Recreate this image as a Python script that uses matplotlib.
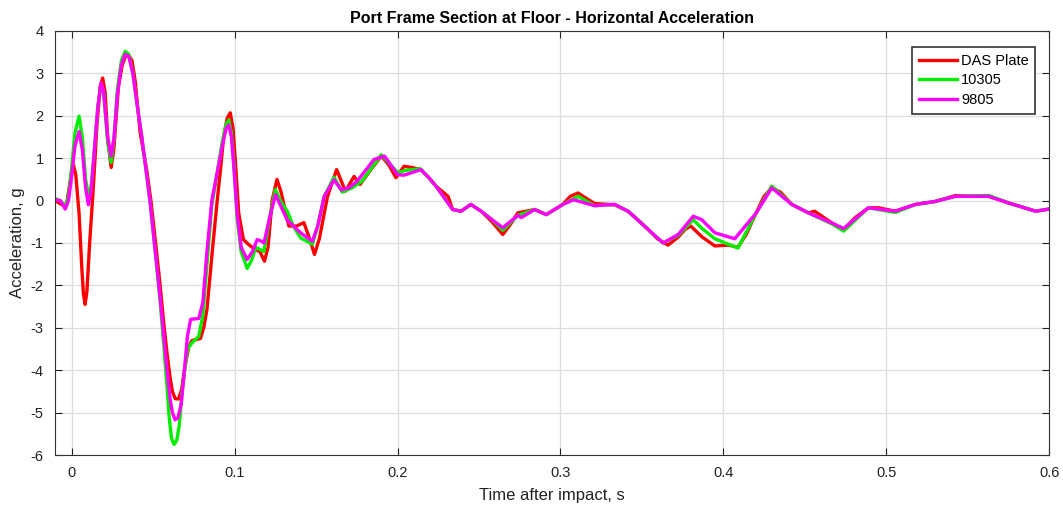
import matplotlib
matplotlib.use("Agg")
import matplotlib.pyplot as plt

# DAS Plate (red)
t_das = [-0.0103, -0.008, -0.005, -0.003, -0.001, 0.001, 0.0025, 0.0045, 0.0062, 0.0072,
         0.0082, 0.0093, 0.011, 0.0133, 0.0155, 0.0175, 0.019, 0.0205, 0.0222, 0.0242,
         0.0258, 0.0287, 0.031, 0.033, 0.035, 0.037, 0.039, 0.042, 0.046, 0.0486,
         0.0515, 0.0543, 0.0565, 0.0585, 0.0603, 0.0618, 0.0635, 0.0655, 0.0675, 0.0695,
         0.0718, 0.0739, 0.079, 0.081, 0.083, 0.0862, 0.0893, 0.0915, 0.0933, 0.0955,
         0.0973, 0.099, 0.1005, 0.1025, 0.1054, 0.109, 0.1128, 0.1155, 0.1183, 0.1205,
         0.123, 0.126, 0.1285, 0.1333, 0.138, 0.1425, 0.146, 0.149, 0.152, 0.157,
         0.1626, 0.168, 0.1733, 0.177, 0.184, 0.19, 0.1945, 0.199, 0.204, 0.209,
         0.2143, 0.219, 0.2236, 0.231, 0.2338, 0.239, 0.245, 0.2513, 0.258, 0.2646,
         0.2695, 0.2738, 0.2841, 0.2913, 0.3015, 0.306, 0.3108, 0.316, 0.321, 0.3333,
         0.3415, 0.3475, 0.3538, 0.3595, 0.366, 0.3723, 0.3765, 0.38, 0.3867, 0.3948,
         0.403, 0.409, 0.414, 0.42, 0.425, 0.4297, 0.435, 0.442, 0.4522, 0.456,
         0.4667, 0.4738, 0.481, 0.489, 0.4953, 0.5055, 0.518, 0.53, 0.5425, 0.553,
         0.563, 0.5754, 0.5917, 0.6]
a_das = [0.0, -0.05, -0.12, -0.05, 0.45, 0.85, 0.6, -0.3, -1.6, -2.2,
         -2.45, -2.15, -1.0, 0.34, 1.8, 2.7, 2.89, 2.55, 1.4, 0.78,
         1.2, 2.7, 3.2, 3.4, 3.42, 3.3, 2.8, 1.6, 0.73, 0.0,
         -1.0, -2.02, -2.9, -3.6, -4.15, -4.5, -4.67, -4.68, -4.45, -3.9,
         -3.45, -3.3, -3.25, -3.0, -2.57, -1.23, 0.0, 0.8, 1.52, 1.95,
         2.07, 1.7, 0.9, -0.3, -0.92, -1.05, -1.16, -1.2, -1.43, -1.1,
         0.0, 0.5, 0.2, -0.6, -0.6, -0.52, -0.9, -1.27, -0.9, 0.1,
         0.73, 0.22, 0.57, 0.38, 0.75, 1.05, 0.85, 0.54, 0.81, 0.78,
         0.73, 0.55, 0.34, 0.1, -0.21, -0.25, -0.09, -0.25, -0.5, -0.8,
         -0.55, -0.29, -0.21, -0.33, -0.09, 0.1, 0.18, 0.05, -0.07, -0.1,
         -0.25, -0.45, -0.68, -0.9, -1.05, -0.86, -0.68, -0.6, -0.85, -1.07,
         -1.05, -1.1, -0.8, -0.3, 0.1, 0.3, 0.2, -0.09, -0.29, -0.25,
         -0.53, -0.68, -0.4, -0.17, -0.17, -0.25, -0.09, -0.02, 0.12, 0.1,
         0.1, -0.06, -0.25, -0.2]

# 10305 (green)
t_10305 = [-0.0103, -0.007, -0.004, -0.002, 0.0, 0.002, 0.0045, 0.0065, 0.0085, 0.0102,
           0.0118, 0.0135, 0.016, 0.018, 0.0195, 0.022, 0.0242, 0.026, 0.028, 0.0305,
           0.0328, 0.035, 0.0375, 0.040, 0.043, 0.046, 0.048, 0.051, 0.0543, 0.0565,
           0.0585, 0.0598, 0.0612, 0.0628, 0.0645, 0.066, 0.068, 0.071, 0.0739, 0.078,
           0.0805, 0.083, 0.086, 0.089, 0.0925, 0.0948, 0.0964, 0.098, 0.0995, 0.1015,
           0.104, 0.1077, 0.1105, 0.113, 0.118, 0.1215, 0.125, 0.128, 0.1323, 0.136,
           0.1405, 0.1477, 0.151, 0.155, 0.161, 0.166, 0.172, 0.178, 0.19, 0.1945,
           0.2, 0.206, 0.214, 0.219, 0.2236, 0.2338, 0.239, 0.245, 0.2513, 0.258,
           0.2646, 0.2738, 0.2841, 0.2913, 0.3015, 0.3108, 0.321, 0.3333, 0.3415, 0.3538,
           0.363, 0.3723, 0.3815, 0.3867, 0.3948, 0.409, 0.42, 0.4297, 0.442, 0.4522,
           0.4667, 0.4738, 0.489, 0.5055, 0.518, 0.53, 0.5425, 0.563, 0.5754, 0.5917,
           0.6]
a_10305 = [0.05, 0.0, -0.15, 0.1, 0.8, 1.6, 1.99, 1.5, 0.5, 0.14,
           0.3, 1.0, 2.2, 2.75, 2.6, 1.4, 0.9, 1.5, 2.6, 3.3,
           3.52, 3.45, 3.0, 2.3, 1.5, 0.6, 0.0, -1.1, -2.4, -3.4,
           -4.4, -5.1, -5.6, -5.75, -5.65, -5.3, -4.4, -3.5, -3.35, -3.2,
           -2.7, -1.5, -0.1, 0.6, 1.4, 1.8, 1.9, 1.6, 0.9, -0.4,
           -1.2, -1.6, -1.4, -1.1, -1.2, -0.4, 0.26, 0.0, -0.25, -0.6,
           -0.88, -1.03, -0.6, 0.1, 0.55, 0.2, 0.3, 0.45, 1.08, 0.9,
           0.66, 0.72, 0.75, 0.55, 0.34, -0.21, -0.25, -0.09, -0.25, -0.45,
           -0.7, -0.35, -0.21, -0.33, -0.09, 0.1, -0.12, -0.09, -0.25, -0.68,
           -1.0, -0.82, -0.45, -0.65, -0.9, -1.12, -0.3, 0.34, -0.09, -0.29,
           -0.55, -0.72, -0.17, -0.28, -0.09, -0.02, 0.1, 0.12, -0.06, -0.25,
           -0.2]

# 9805 (magenta)
t_9805 = [-0.0103, -0.007, -0.004, -0.002, 0.0, 0.002, 0.0045, 0.0065, 0.0085, 0.0102,
          0.0118, 0.0135, 0.016, 0.018, 0.0195, 0.022, 0.0242, 0.026, 0.028, 0.0305,
          0.0328, 0.035, 0.0375, 0.040, 0.043, 0.046, 0.048, 0.051, 0.0543, 0.0565,
          0.0585, 0.0603, 0.0618, 0.0635, 0.0652, 0.0672, 0.0692, 0.071, 0.073, 0.078,
          0.0805, 0.083, 0.086, 0.089, 0.0925, 0.0948, 0.0964, 0.098, 0.0995, 0.1015,
          0.104, 0.1077, 0.111, 0.1138, 0.116, 0.118, 0.1215, 0.1251, 0.128, 0.1323,
          0.1405, 0.1477, 0.151, 0.155, 0.161, 0.1655, 0.17, 0.175, 0.1856, 0.192,
          0.2, 0.204, 0.2143, 0.219, 0.2236, 0.2338, 0.239, 0.245, 0.2513, 0.258,
          0.2646, 0.2738, 0.276, 0.2841, 0.2913, 0.3015, 0.308, 0.321, 0.3333, 0.3415,
          0.3538, 0.363, 0.3723, 0.3815, 0.3867, 0.3948, 0.407, 0.42, 0.4297, 0.442,
          0.4522, 0.4667, 0.4738, 0.489, 0.5055, 0.518, 0.53, 0.5425, 0.563, 0.5754,
          0.5917, 0.6]
a_9805 = [0.02, 0.0, -0.2, 0.0, 0.6, 1.3, 1.63, 1.2, 0.3, -0.1,
          0.2, 1.0, 2.2, 2.78, 2.6, 1.5, 1.05, 1.5, 2.5, 3.2,
          3.45, 3.4, 3.0, 2.3, 1.5, 0.6, 0.0, -1.1, -2.3, -3.2,
          -4.0, -4.65, -5.0, -5.17, -5.12, -4.8, -4.0, -3.2, -2.8, -2.78,
          -2.4, -1.2, 0.0, 0.6, 1.3, 1.7, 1.79, 1.5, 0.8, -0.3,
          -1.1, -1.39, -1.2, -0.92, -0.95, -1.0, -0.4, 0.14, -0.1, -0.46,
          -0.76, -0.96, -0.6, 0.1, 0.49, 0.25, 0.3, 0.45, 0.97, 1.05,
          0.61, 0.6, 0.73, 0.55, 0.34, -0.21, -0.25, -0.09, -0.25, -0.45,
          -0.64, -0.35, -0.4, -0.21, -0.33, -0.09, 0.02, -0.12, -0.09, -0.25,
          -0.68, -1.0, -0.8, -0.37, -0.45, -0.76, -0.9, -0.3, 0.3, -0.09,
          -0.29, -0.53, -0.66, -0.17, -0.25, -0.09, -0.02, 0.1, 0.1, -0.06,
          -0.25, -0.2]

xticks = [0, 0.1, 0.2, 0.3, 0.4, 0.5, 0.6]
xticklabels = ["0", "0.1", "0.2", "0.3", "0.4", "0.5", "0.6"]
yticks = [-6, -5, -4, -3, -2, -1, 0, 1, 2, 3, 4]

plt.rcParams['font.family'] = ['Liberation Sans', 'DejaVu Sans']
plt.rcParams['axes.unicode_minus'] = False

fig = plt.figure(figsize=(10.63, 5.12), dpi=100)
ax = fig.add_axes([0.0517, 0.1113, 0.9353, 0.8282])

ax.plot(t_das, a_das, color="#ff0000", lw=2.4, label="DAS Plate", solid_joinstyle="round")
ax.plot(t_10305, a_10305, color="#00ee00", lw=2.4, label="10305", solid_joinstyle="round")
ax.plot(t_9805, a_9805, color="#ff00ff", lw=2.4, label="9805", solid_joinstyle="round")

ax.set_xlim(-0.0103, 0.6)
ax.set_ylim(-6, 4)
ax.set_xticks(xticks)
ax.set_xticklabels(xticklabels)
ax.set_yticks(yticks)
ax.grid(True, color="#dddddd", lw=0.9)
ax.set_axisbelow(True)
ax.tick_params(direction="in", top=True, right=True, labelsize=10.5, colors="#222222",
               length=5, pad=8)
for s in ax.spines.values():
    s.set_color("#333333")

ax.set_xlabel("Time after impact, s", fontsize=12, color="#222222", labelpad=6)
ax.set_ylabel("Acceleration, g", fontsize=12, color="#222222", labelpad=4)
ax.set_title("Port Frame Section at Floor - Horizontal Acceleration",
             fontsize=11.5, fontweight="bold", pad=6)

leg = ax.legend(loc="upper right", bbox_to_anchor=(0.986, 0.962), borderaxespad=0,
                fontsize=10.5, fancybox=False, framealpha=1, edgecolor="#333333",
                handlelength=2.6, handletextpad=0.3, borderpad=0.45, labelspacing=0.4)
leg.get_frame().set_linewidth(1.2)

fig.savefig("out.png", dpi=100)
